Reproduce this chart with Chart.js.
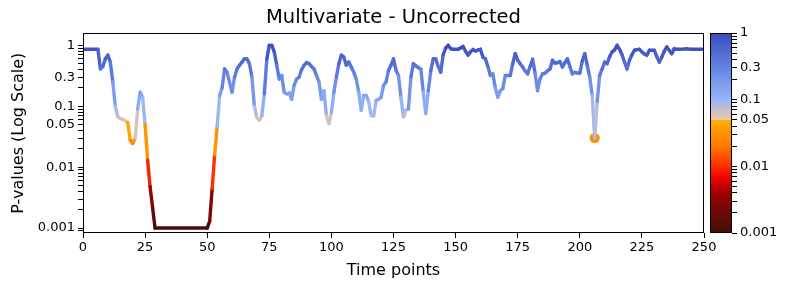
<!DOCTYPE html>
<html>
<head>
<meta charset="utf-8">
<script src="https://cdn.jsdelivr.net/npm/chart.js@4/dist/chart.umd.min.js"></script>
<style>
  body { margin: 0; background: #fff; }
  #wrap { position: relative; width: 790px; height: 290px; }
  #wrap canvas { position: absolute; top: 0; }
  #main { left: 0; }
  #cbar { left: 700px; }
</style>
</head>
<body>
<div id="wrap">
  <canvas id="main" width="790" height="290"></canvas>
  <canvas id="cbar" width="90" height="290"></canvas>
</div>
<script>
// time points and p-values
const times = [0, 1, 2, 3, 4, 5, 6, 7, 8, 9, 10, 11, 12, 13, 14, 15, 16, 17, 18, 19,
  20, 21, 22, 23, 24, 25, 26, 27, 28, 29, 35, 40, 45, 50, 51, 52, 53, 54, 55, 56,
  57, 58, 60, 61, 62, 63, 64, 65, 66, 67, 68, 69, 70, 71, 72, 73, 74, 75, 76, 77,
  78, 79, 80, 81, 82, 83, 84, 85, 86, 87, 88, 89, 90, 91, 92, 93, 94, 95, 96, 97,
  98, 99, 100, 101, 102, 103, 104, 105, 106, 107, 108, 109, 110, 111, 112, 113, 114, 115, 116, 117,
  118, 119, 120, 121, 122, 123, 124, 125, 126, 127, 128, 129, 130, 131, 132, 133, 134, 135, 136, 137,
  138, 139, 140, 141, 142, 143, 144, 145, 146, 147, 148, 149, 150, 151, 152, 153, 154, 155, 156, 157,
  158, 159, 160, 161, 162, 163, 164, 165, 166, 167, 168, 169, 170, 171, 172, 173, 174, 175, 176, 177,
  178, 179, 180, 181, 182, 183, 184, 185, 186, 187, 188, 189, 190, 191, 192, 193, 194, 195, 196, 197,
  198, 199, 200, 201, 202, 203, 204, 205, 206, 207, 208, 209, 210, 211, 212, 213, 214, 215, 216, 217,
  218, 219, 220, 221, 222, 223, 224, 225, 226, 227, 228, 229, 230, 231, 232, 233, 234, 235, 236, 237,
  238, 239, 240, 243, 245, 250];
const pValues = [0.86, 0.86, 0.86, 0.86, 0.86, 0.86, 0.86, 0.41, 0.45, 0.6, 0.69, 0.53, 0.25, 0.1, 0.067, 0.063, 0.061, 0.058, 0.054, 0.028,
  0.0245, 0.03, 0.09, 0.17, 0.14, 0.05, 0.013, 0.0048, 0.0022, 0.001, 0.001, 0.001, 0.001, 0.001, 0.0013, 0.0045, 0.016, 0.046, 0.15, 0.2,
  0.41, 0.36, 0.17, 0.3, 0.41, 0.47, 0.53, 0.6, 0.6, 0.5, 0.3, 0.1, 0.065, 0.059, 0.07, 0.16, 0.6, 1.0, 1.0, 0.78,
  0.47, 0.28, 0.32, 0.17, 0.16, 0.165, 0.13, 0.22, 0.28, 0.3, 0.4, 0.47, 0.52, 0.5, 0.45, 0.41, 0.32, 0.25, 0.13, 0.18,
  0.07, 0.052, 0.08, 0.17, 0.3, 0.5, 0.69, 0.64, 0.47, 0.53, 0.44, 0.36, 0.28, 0.17, 0.086, 0.15, 0.15, 0.12, 0.07, 0.069,
  0.125, 0.13, 0.14, 0.22, 0.25, 0.39, 0.47, 0.6, 0.39, 0.32, 0.14, 0.067, 0.086, 0.09, 0.3, 0.5, 0.46, 0.43, 0.41, 0.17,
  0.076, 0.18, 0.38, 0.6, 0.6, 0.45, 0.36, 0.7, 0.9, 1.0, 0.88, 0.86, 0.86, 0.86, 0.9, 0.96, 0.8, 0.69, 0.78, 0.86,
  0.8, 0.84, 0.86, 0.64, 0.6, 0.45, 0.32, 0.34, 0.2, 0.14, 0.18, 0.195, 0.32, 0.32, 0.32, 0.5, 0.73, 0.57, 0.5, 0.44,
  0.38, 0.34, 0.45, 0.59, 0.35, 0.18, 0.28, 0.34, 0.35, 0.38, 0.41, 0.57, 0.51, 0.52, 0.54, 0.44, 0.52, 0.6, 0.45, 0.34,
  0.36, 0.35, 0.35, 0.55, 0.73, 0.47, 0.3, 0.15, 0.03, 0.12, 0.32, 0.41, 0.53, 0.5, 0.65, 0.78, 0.84, 1.0, 0.86, 0.7,
  0.53, 0.41, 0.57, 0.7, 0.83, 0.85, 0.86, 0.78, 0.72, 0.69, 0.83, 0.83, 0.83, 0.65, 0.53, 0.64, 0.8, 0.94, 0.83, 0.73,
  0.88, 0.86, 0.86, 0.88, 0.86, 0.86];

// isolated significant point
const markTimes = [206];
const markValues = [0.03];

const yTickLabels = [0.001, 0.01, 0.05, 0.1, 0.3, 1];
const xTickStep = 25;

// colormap stops (p-value, rgb); the step at 0.05 is sharp
const cmapP = [0.001, 0.002, 0.004, 0.0065, 0.01, 0.02, 0.05, 0.05, 0.07, 0.1, 0.3, 1];
const cmapRGB = [[70, 12, 8], [105, 10, 8], [160, 0, 0], [235, 0, 0], [255, 45, 0], [255, 120, 0],
  [255, 176, 0], [235, 200, 165], [200, 190, 205], [150, 182, 248], [100, 132, 228], [58, 76, 192]];

const FONT = "'DejaVu Sans', sans-serif";

function cmap(p) {
  const lp = Math.log10(Math.min(Math.max(p, 0.001), 1));
  for (let i = 0; i < cmapP.length - 1; i++) {
    if (p <= cmapP[i + 1]) {
      const a = Math.log10(cmapP[i]), b = Math.log10(cmapP[i + 1]);
      const f = b > a ? Math.min(Math.max((lp - a) / (b - a), 0), 1) : 1;
      const c = cmapRGB[i].map((v, k) => Math.round(v + (cmapRGB[i + 1][k] - v) * f));
      return `rgb(${c[0]},${c[1]},${c[2]})`;
    }
  }
  const c = cmapRGB[cmapRGB.length - 1];
  return `rgb(${c[0]},${c[1]},${c[2]})`;
}

function logTicks(min, max) {
  const out = [];
  for (let d = -4; d <= 0; d++) {
    for (let k = 1; k <= 9; k++) {
      const v = Number((k * Math.pow(10, d)).toPrecision(2));
      if (v >= min && v <= max) out.push({ value: v });
    }
  }
  return out;
}

const tickLabel = (v) => (yTickLabels.includes(v) ? String(v) : '');

const framePlugin = {
  id: 'frame',
  afterDraw(chart) {
    const { ctx, chartArea: a } = chart;
    ctx.save();
    ctx.strokeStyle = '#000';
    ctx.lineWidth = 1;
    ctx.strokeRect(Math.round(a.left) + 0.5, Math.round(a.top) + 0.5,
      Math.round(a.width) - 1, Math.round(a.height) - 1);
    ctx.restore();
  }
};

const yMin = 0.00083, yMax = 1.57;

new Chart(document.getElementById('main'), {
  type: 'line',
  data: {
    datasets: [
      {
        data: times.map((t, i) => ({ x: t, y: pValues[i] })),
        borderWidth: 3.4,
        pointRadius: 0,
        tension: 0,
        borderCapStyle: 'round',
        borderJoinStyle: 'round',
        segment: {
          borderColor: (ctx) => cmap((ctx.p0.parsed.y + ctx.p1.parsed.y) / 2)
        }
      },
      {
        data: markTimes.map((t, i) => ({ x: t, y: markValues[i] })),
        showLine: false,
        pointRadius: 5,
        pointBorderWidth: 0,
        pointBackgroundColor: 'rgb(255,140,0)'
      }
    ]
  },
  options: {
    responsive: false,
    animation: false,
    layout: { padding: { right: 86 } },
    plugins: {
      legend: { display: false },
      tooltip: { enabled: false },
      title: {
        display: true,
        fullSize: false,
        text: 'Multivariate - Uncorrected',
        color: '#000',
        font: { family: FONT, size: 19.5, weight: 'normal' },
        padding: { top: 6, bottom: 4 }
      }
    },
    scales: {
      x: {
        type: 'linear',
        min: 0,
        max: 250,
        afterFit: (s) => { s.height = 57; },
        ticks: { stepSize: xTickStep, color: '#000', font: { family: FONT, size: 13 }, padding: 2, maxRotation: 0 },
        grid: { drawOnChartArea: false, tickLength: 5, color: '#000' },
        border: { display: false },
        title: {
          display: true,
          text: 'Time points',
          color: '#000',
          font: { family: FONT, size: 16 },
          padding: { top: 4, bottom: 10 }
        }
      },
      y: {
        type: 'logarithmic',
        min: yMin,
        max: yMax,
        afterFit: (s) => { s.width = 83; },
        afterBuildTicks: (s) => { s.ticks = logTicks(yMin, yMax); },
        ticks: { autoSkip: false, callback: tickLabel, color: '#000', font: { family: FONT, size: 13 }, padding: 3 },
        grid: { drawOnChartArea: false, tickLength: 5, color: '#000' },
        border: { display: false },
        title: {
          display: true,
          text: 'P-values (Log Scale)',
          color: '#000',
          font: { family: FONT, size: 16 },
          padding: { top: 9 }
        }
      }
    }
  },
  plugins: [framePlugin]
});

// colour bar
new Chart(document.getElementById('cbar'), {
  type: 'bar',
  data: {
    labels: [''],
    datasets: [{
      data: [[0.001, 1]],
      barPercentage: 1,
      categoryPercentage: 1,
      borderWidth: 0,
      backgroundColor: (ctx) => {
        const chart = ctx.chart;
        if (!chart.chartArea) return 'transparent';
        const y = chart.scales.y;
        const g = chart.ctx.createLinearGradient(0, y.getPixelForValue(0.001), 0, y.getPixelForValue(1));
        cmapP.forEach((p, i) => {
          const c = cmapRGB[i];
          g.addColorStop((Math.log10(p) + 3) / 3, `rgb(${c[0]},${c[1]},${c[2]})`);
        });
        return g;
      }
    }]
  },
  options: {
    responsive: false,
    animation: false,
    layout: { padding: { left: 10, top: 33, bottom: 57, right: 0 } },
    plugins: { legend: { display: false }, tooltip: { enabled: false } },
    scales: {
      x: { display: false },
      y: {
        type: 'logarithmic',
        position: 'right',
        min: 0.001,
        max: 1,
        afterFit: (s) => { s.width = 58; },
        afterBuildTicks: (s) => { s.ticks = logTicks(0.001, 1); },
        ticks: { autoSkip: false, callback: tickLabel, color: '#000', font: { family: FONT, size: 13 }, padding: 3 },
        grid: { drawOnChartArea: false, tickLength: 5, color: '#000' },
        border: { display: false }
      }
    }
  },
  plugins: [framePlugin]
});
</script>
</body>
</html>
